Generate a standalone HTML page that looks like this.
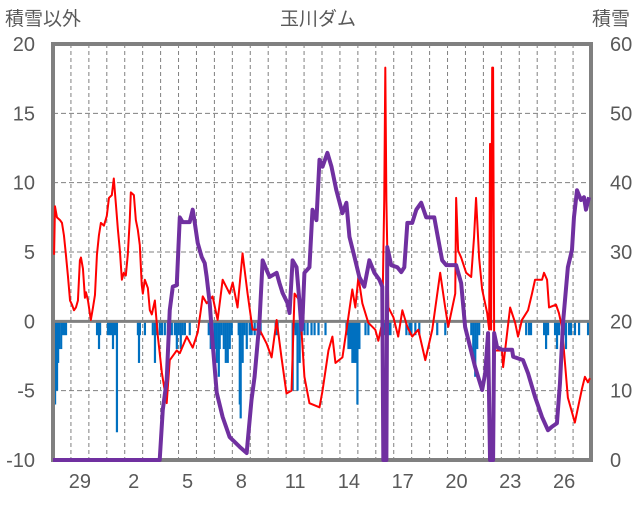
<!DOCTYPE html>
<html><head><meta charset="utf-8"><style>
body{margin:0;background:#fff;}
svg text{font-family:"Liberation Sans","Noto Sans CJK JP",sans-serif;fill:#595959;}
</style></head><body>
<svg id="chart" width="636" height="501" viewBox="0 0 636 501">
<g id="grid"></g>
<g id="bars"></g>
<g id="frame"></g>
<g id="lines"></g>
<g id="labels"></g>
<text x="5" y="25" font-size="19">積雪以外</text>
<text x="318" y="25" font-size="19" text-anchor="middle">玉川ダム</text>
<text x="630" y="25" font-size="19" text-anchor="end">積雪</text>
</svg>
<script>
const leftTicks=[20,15,10,5,0,-5,-10];
const rightTicks=[60,50,40,30,20,10,0];
const dayLabels=["29","2","5","8","11","14","17","20","23","26"];
const dayLabelIdx=[1,4,7,10,13,16,19,22,25,28];
const nDays=30;
const redT=[0.06,0.11,0.22,0.39,0.5,0.61,0.72,0.83,0.95,1.06,1.17,1.28,1.39,1.5,1.56,1.67,1.78,1.84,1.95,2.11,2.23,2.34,2.45,2.56,2.67,2.84,3.0,3.12,3.28,3.39,3.51,3.62,3.73,3.84,3.95,4.06,4.17,4.28,4.34,4.51,4.62,4.73,4.84,4.95,5.01,5.12,5.29,5.4,5.51,5.68,5.84,6.07,6.34,6.51,6.9,7.07,7.46,7.79,8.07,8.35,8.57,8.9,9.18,9.46,9.85,10.02,10.29,10.57,10.85,11.13,11.52,11.91,12.19,12.47,12.74,13.02,13.3,13.47,13.75,14.02,14.3,14.86,15.03,15.36,15.58,15.75,16.14,16.47,16.69,16.86,17.03,17.25,17.58,17.97,18.14,18.36,18.47,18.53,18.59,18.7,18.98,19.25,19.48,19.76,20.03,20.37,20.76,21.15,21.59,21.87,22.04,22.43,22.48,22.59,22.76,23.04,23.32,23.48,23.59,23.76,23.93,24.21,24.32,24.37,24.43,24.49,24.54,24.6,24.65,25.04,25.1,25.49,25.77,25.93,26.15,26.49,26.71,26.88,27.27,27.38,27.55,27.66,28.05,28.21,28.38,28.71,29.1,29.49,29.66,29.83,29.94];
const redV=[4.8,8.3,7.5,7.3,7.1,6.2,4.8,3.3,1.5,1.2,0.8,1.0,1.5,4.4,4.6,3.8,1.7,2.1,1.5,0.1,1.0,1.9,4.8,6.2,7.1,6.9,7.6,8.9,9.1,10.3,8.4,6.6,5.1,3.0,3.5,3.3,4.8,7.3,9.3,9.1,7.3,6.6,5.5,2.6,2.0,3.0,2.4,0.8,0.5,1.5,-1.0,-3.7,-5.9,-2.8,-2.1,-2.3,-1.1,-1.9,-0.8,1.8,1.3,1.8,0.1,3.0,2.0,2.8,1.0,4.9,2.0,-0.6,-0.6,-1.6,-2.6,0.1,-2.6,-5.2,-5.0,2.0,1.5,-4.0,-5.9,-6.2,-5.0,-2.1,-1.1,-3.0,-2.6,0.3,2.3,1.0,3.2,1.3,-0.1,-0.6,-1.4,-0.1,8.7,18.3,8.7,1.0,0.3,-1.1,0.8,-0.4,-1.1,-0.6,-2.8,-0.6,3.5,1.0,-0.4,2.0,8.9,5.1,4.6,3.5,3.2,6.1,8.9,4.6,2.3,0.6,-0.6,12.8,-0.6,18.3,18.3,-1.4,-2.1,-2.1,-3.3,1.0,-0.1,-1.1,0.1,0.8,2.0,3.0,3.0,3.5,3.0,1.0,1.2,0.6,-0.4,-5.5,-7.3,-4.9,-4.0,-4.4,-4.1];
const snowT=[0,5.95,6.12,6.34,6.51,6.68,6.9,7.07,7.23,7.62,7.79,7.9,8.07,8.29,8.46,8.57,8.74,8.9,9.13,9.46,9.85,10.41,10.8,10.85,11.07,11.24,11.52,11.69,11.91,12.08,12.47,12.63,12.8,13.08,13.19,13.36,13.58,13.75,13.86,13.91,14.02,14.3,14.47,14.69,14.86,15.03,15.3,15.53,15.8,16.14,16.36,16.53,16.81,17.08,17.36,17.64,17.92,18.2,18.36,18.42,18.59,18.64,18.86,19.2,19.42,19.59,19.76,20.03,20.26,20.53,20.81,21.26,21.42,21.7,21.93,22.48,22.76,22.98,23.54,23.93,24.1,24.26,24.37,24.54,24.6,24.76,25.04,25.6,25.66,26.21,26.49,26.88,27.27,27.6,27.82,28.1,28.27,28.44,28.71,28.94,29.05,29.22,29.44,29.61,29.72,29.89];
const snowV=[0,0,7.2,11.5,21.6,25.0,25.2,35.0,34.3,34.3,36.1,34.3,31.3,29.3,28.4,26.4,22.6,16.9,9.7,6.2,3.3,1.9,1.0,2.5,8.7,12.0,20.2,28.8,27.4,26.4,27.0,25.5,24.1,22.6,21.2,28.8,27.8,22.6,18.8,20.2,27.0,27.8,36.1,34.6,43.3,42.3,44.3,42.3,38.9,35.6,37.1,32.2,29.3,26.4,25.0,28.8,27.0,26.0,25.0,0,0,30.7,28.1,27.8,27.1,27.8,34.2,34.2,36.1,37.1,35.0,35.0,32.7,28.8,28.1,28.1,25.5,19.2,13.4,10.1,12.5,18.3,0,0,18.3,16.3,15.9,15.9,14.9,14.4,12.5,9.1,6.2,4.3,4.8,5.3,11.1,19.8,27.8,30.3,35.0,38.9,37.5,37.9,36.1,37.9];
const rainT=[0.11,0.17,0.22,0.28,0.33,0.45,0.5,0.61,0.72,2.45,2.56,2.62,3.06,3.17,3.28,3.34,3.45,3.56,4.73,4.79,4.84,5.12,5.56,5.68,5.79,5.95,6.07,6.23,6.4,6.51,6.62,6.79,6.9,7.01,7.12,7.23,7.35,7.62,8.68,8.79,8.9,9.02,9.13,9.24,9.29,9.4,9.52,9.63,9.74,9.85,9.96,10.35,10.41,10.46,10.57,10.68,10.8,10.96,11.07,11.24,11.41,11.57,12.41,12.52,13.36,13.52,13.63,13.75,13.86,14.02,14.19,14.41,14.58,14.8,15.19,16.36,16.47,16.58,16.69,16.81,16.92,16.97,17.08,17.42,17.58,18.36,18.53,18.7,18.81,19.7,19.87,19.98,20.2,20.42,21.42,21.87,23.32,23.43,23.54,23.65,23.76,26.38,26.54,26.65,27.38,27.49,27.6,27.99,28.1,28.21,28.38,28.49,28.6,28.77,28.88,29.1,29.33,29.83];
const rainV=[-6,-4,-5,-3,-2,-2,-1,-1,-1,-1,-2,-1,-1,-1,-1,-2,-1,-8,-1,-3,-1,-1,-1,-3,-1,-1,-1,-1,-1,-1,-1,-1,-2,-1,-2,-1,-1,-1,-1,-2,-1,-2,-3,-4,-2,-1,-2,-3,-3,-2,-1,-1,-6,-7,-3,-1,-2,-1,-1,-1,-1,-1,-1,-1,-5,-1,-5,-3,-1,-1,-1,-1,-1,-1,-1,-1,-2,-2,-3,-3,-3,-6,-2,-1,-1,-1,-1,-1,-1,-1,-1,-1,-1,-1,-1,-1,-1,-3,-4,-2,-1,-1,-1,-1,-1,-2,-1,-1,-2,-1,-1,-1,-2,-1,-1,-1,-1,-1];

const X0=53,X1=591,Y0=44,Y1=460;
const NS='http://www.w3.org/2000/svg';
const xS=t=>X0+t*(X1-X0)/nDays;
const yL=v=>Y1-(v+10)*(Y1-Y0)/30;
const yR=v=>Y1-v*(Y1-Y0)/60;
function mk(tag,at,parent){const e=document.createElementNS(NS,tag);for(const k in at)e.setAttribute(k,at[k]);parent.appendChild(e);return e;}
const grid=document.getElementById('grid'),bars=document.getElementById('bars'),lines=document.getElementById('lines'),frame=document.getElementById('frame'),labels=document.getElementById('labels');
for(let d=1;d<nDays;d++){
  const l=mk('line',{x1:xS(d),x2:xS(d),y1:Y0,y2:Y1,stroke:'#808080','stroke-width':1,'stroke-dasharray':'4,3'},grid);
  
  
}
leftTicks.forEach(v=>{
  if(v!==0&&v!==20&&v!==-10){
    const l=mk('line',{x1:X0,x2:X1,y1:yL(v),y2:yL(v),stroke:'#808080','stroke-width':1,'stroke-dasharray':'5,3'},grid);
    
    
  }
  const t=mk('text',{x:35,y:yL(v)+7,'font-size':20,'text-anchor':'end'},labels);t.textContent=v;
  
  
});
rightTicks.forEach(v=>{
  const t=mk('text',{x:610,y:yR(v)+7,'font-size':20},labels);t.textContent=v;
  
  
});
dayLabels.forEach((s,i)=>{
  const t=mk('text',{x:xS(dayLabelIdx[i]+0.5),y:488,'font-size':20,'text-anchor':'middle'},labels);t.textContent=s;
  
  
});
rainT.forEach((t,i)=>{
  const r=mk('rect',{x:xS(t)-1,y:yL(0),width:2.2,height:yL(rainV[i])-yL(0),fill:'#0070C0'},bars);
  
  
});
const z=mk('line',{x1:X0,x2:X1,y1:yL(0),y2:yL(0),stroke:'#808080','stroke-width':3},frame);


const fr=mk('rect',{x:X0,y:Y0,width:X1-X0,height:Y1-Y0,fill:'none',stroke:'#808080','stroke-width':4},frame);


const rp=mk('polyline',{points:redT.map((t,i)=>xS(t)+','+yL(redV[i])).join(' '),fill:'none',stroke:'#FF0000','stroke-width':2,'stroke-linejoin':'round'},lines);


const sp=mk('polyline',{points:snowT.map((t,i)=>xS(t)+','+yR(snowV[i])).join(' '),fill:'none',stroke:'#7030A0','stroke-width':4,'stroke-linejoin':'round'},lines);


</script>
</body></html>
